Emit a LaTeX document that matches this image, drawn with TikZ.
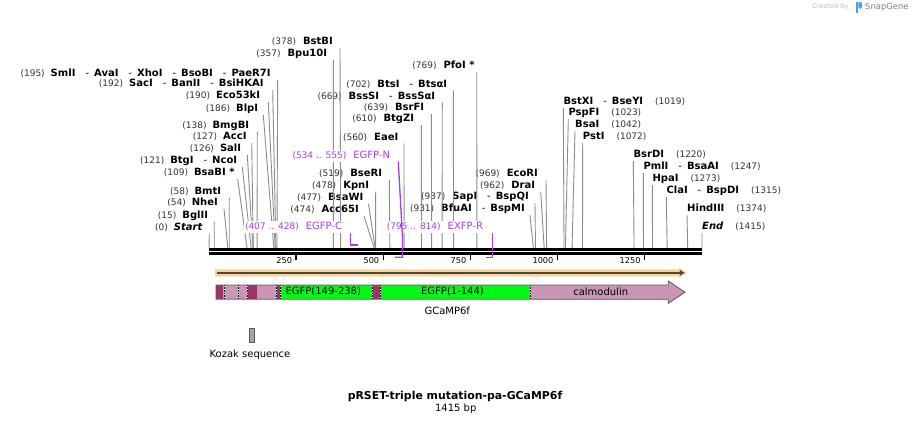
\documentclass[tikz,border=0pt]{standalone}
\usepackage{fontspec}
\setmainfont{DejaVu Sans}
\usepackage{xcolor}
\usetikzlibrary{arrows.meta}
\definecolor{cutgray}{HTML}{8C8C8C}
\definecolor{numgray}{HTML}{333333}
\definecolor{primer}{HTML}{A43DEE}
\definecolor{orfglow}{HTML}{FBD38F}
\definecolor{orfline}{HTML}{474747}
\definecolor{cammod}{HTML}{C996B4}
\definecolor{linker}{HTML}{9C3467}
\definecolor{egfp}{HTML}{05F716}
\definecolor{outline}{HTML}{5A5A5A}
\definecolor{kozak}{HTML}{A3A3A3}
\definecolor{snapblue}{HTML}{4AA3DF}
\newcommand{\sitenum}[1]{{\fontsize{9}{10}\selectfont\color{numgray}(#1)}}
\newcommand{\enz}[1]{\textbf{#1}}
\newcommand{\alsocut}{\hspace{10pt}-\hspace{5pt}}

\begin{document}
\begin{tikzpicture}[
      x = 1pt, y = -1pt, % one unit per pixel, y runs down
      font = \fontsize{10}{12}\selectfont,
      cutline/.style = {draw = cutgray, line width = 0.9pt}, % enzyme leader lines
      primerline/.style = {draw = primer, line width = 1.3pt},
    ]

    \tikzstyle{cutl}=[
      anchor = south east,
      inner xsep = 7pt,
      inner ysep = 1pt,
      text height = 7.5pt,
      text depth = 2pt
    ]
    \tikzstyle{cutr}=[cutl, anchor = south west, inner xsep = 0pt]
    \tikzstyle{primerlbl}=[cutl, text = primer, fill = white, inner xsep = 1pt]

    \fill[white] (0,0) rectangle (912,424);
    \useasboundingbox (0,0) rectangle (912,424);

    % credit line
    \node[text = gray!50, font = \fontsize{6.6}{8}\selectfont, anchor = east] (made) at (852,7) {Created by};
    \fill[snapblue] (855.5,2) rectangle (858.3,13);
    \fill[snapblue, rounded corners = 1pt] (858.3,2) rectangle (861.8,8.5);
    \node[text = gray, font = \fontsize{8.4}{10}\selectfont, anchor = west, inner xsep = 0pt] (snap) at (865,7) {SnapGene};

    % cut sites on the sequence
    \foreach \site in {0,15,54,58,109,121,126,127,138,186,190,192,195,357,378,474,477,478,519,560,610,639,669,702,769,931,937,962,969,1019,1023,1042,1072,1220,1247,1273,1315,1374,1415}
      \coordinate (c\site) at ({209+\site*0.34841},248);

    \node[cutl] (smlI) at (277.7,80) {\sitenum{195}\hspace{6pt}\enz{SmlI}\alsocut\enz{AvaI}\alsocut\enz{XhoI}\alsocut\enz{BsoBI}\alsocut\enz{PaeR7I}};
    \node[cutl, inner xsep = 9pt] (sacI) at (272.7,90) {\sitenum{192}\hspace{6pt}\enz{SacI}\alsocut\enz{BanII}\alsocut\enz{BsiHKAI}};
    \node[cutl, inner xsep = 8pt] (eco53kI) at (268.3,102) {\sitenum{190}\hspace{6pt}\enz{Eco53kI}};
    \node[cutl, inner xsep = 5pt] (blpI) at (263.3,115) {\sitenum{186}\hspace{6pt}\enz{BlpI}};
    \node[cutl, inner xsep = 8pt] (bmgBI) at (257.3,132) {\sitenum{138}\hspace{6pt}\enz{BmgBI}};
    \node[cutl, inner xsep = 5pt] (accI) at (251.7,143) {\sitenum{127}\hspace{6pt}\enz{AccI}};
    \node[cutl, inner xsep = 6pt] (salI) at (247.3,155) {\sitenum{126}\hspace{6pt}\enz{SalI}};
    \node[cutl, inner xsep = 5pt] (btgI) at (242.3,167) {\sitenum{121}\hspace{6pt}\enz{BtgI}\alsocut\enz{NcoI}};
    \node[cutl, inner xsep = 3pt] (bsaBI) at (237.7,179) {\sitenum{109}\hspace{6pt}\enz{BsaBI *}};
    \node[cutl, inner xsep = 8pt] (bmtI) at (229.3,198) {\sitenum{58}\hspace{6pt}\enz{BmtI}};
    \node[cutl, inner xsep = 6pt] (nheI) at (224,209) {\sitenum{54}\hspace{6pt}\enz{NheI}};
    \node[cutl, inner xsep = 6pt] (bglII) at (214.3,222) {\sitenum{15}\hspace{6pt}\enz{BglII}};
    \node[cutl, inner xsep = 6.5pt] (start) at (209.3,234) {\sitenum{0}\hspace{6pt}\enz{\itshape Start}};

    \node[cutl] (bstBI) at (340,48) {\sitenum{378}\hspace{7pt}\enz{BstBI}};
    \node[cutl, inner xsep = 6pt] (bpu10I) at (333.3,60) {\sitenum{357}\hspace{7pt}\enz{Bpu10I}};
    \node[cutl, inner xsep = 2pt] (pfoI) at (476.7,72) {\sitenum{769}\hspace{7pt}\enz{PfoI *}};
    \node[cutl, inner xsep = 6pt] (btsI) at (453.3,90.7) {\sitenum{702}\hspace{7pt}\enz{BtsI}\alsocut\enz{BtsαI}};
    \node[cutl] (bssSI) at (442.3,102.7) {\sitenum{669}\hspace{7pt}\enz{BssSI}\alsocut\enz{BssSαI}};
    \node[cutl] (bsrFI) at (431.3,114) {\sitenum{639}\hspace{7pt}\enz{BsrFI}};
    \node[cutl] (btgZI) at (421.3,125) {\sitenum{610}\hspace{7pt}\enz{BtgZI}};
    \node[cutl, inner xsep = 5.5pt] (eaeI) at (404,143.3) {\sitenum{560}\hspace{7pt}\enz{EaeI}};
    \node[cutl] (bseRI) at (389.3,180) {\sitenum{519}\hspace{7pt}\enz{BseRI}};
    \node[cutl, inner xsep = 6.5pt] (kpnI) at (375.7,191.7) {\sitenum{478}\hspace{7pt}\enz{KpnI}};
    \node[cutl, inner xsep = 5pt] (bsaWI) at (368.5,204) {\sitenum{477}\hspace{7pt}\enz{BsaWI}};
    \node[cutl, inner xsep = 5pt] (acc65I) at (364,216) {\sitenum{474}\hspace{7pt}\enz{Acc65I}};
    \node[cutl, inner xsep = 8pt] (ecoRI) at (546,180) {\sitenum{969}\hspace{7pt}\enz{EcoRI}};
    \node[cutl, inner xsep = 5.5pt] (draI) at (540.7,191.7) {\sitenum{962}\hspace{7pt}\enz{DraI}};
    \node[cutl, inner xsep = 6pt] (sapI) at (535,203) {\sitenum{937}\hspace{7pt}\enz{SapI}\alsocut\enz{BspQI}};
    \node[cutl, inner xsep = 5pt] (bfuAI) at (530,215) {\sitenum{931}\hspace{7pt}\enz{BfuAI}\alsocut\enz{BspMI}};

    \node[cutr] (bstXI) at (563.3,108) {\enz{BstXI}\alsocut\enz{BseYI}\hspace{12pt}\sitenum{1019}};
    \node[cutr] (pspFI) at (568.3,119) {\enz{PspFI}\hspace{12pt}\sitenum{1023}};
    \node[cutr] (bsaI) at (575,131) {\enz{BsaI}\hspace{12pt}\sitenum{1042}};
    \node[cutr] (pstI) at (582.7,143) {\enz{PstI}\hspace{12pt}\sitenum{1072}};
    \node[cutr] (bsrDI) at (633.3,161) {\enz{BsrDI}\hspace{12pt}\sitenum{1220}};
    \node[cutr] (pmlI) at (643.3,173) {\enz{PmlI}\alsocut\enz{BsaAI}\hspace{12pt}\sitenum{1247}};
    \node[cutr] (hpaI) at (652.3,185) {\enz{HpaI}\hspace{12pt}\sitenum{1273}};
    \node[cutr] (claI) at (666.3,197) {\enz{ClaI}\alsocut\enz{BspDI}\hspace{12pt}\sitenum{1315}};
    \node[cutr] (hindIII) at (687,215) {\enz{HindIII}\hspace{12pt}\sitenum{1374}};
    \node[cutr] (finish) at (702,233) {\enz{\itshape End}\hspace{12pt}\sitenum{1415}};

    \path[cutline] (smlI.south east) edge (c195);
    \path[cutline] (sacI.south east) edge (c192);
    \path[cutline] (eco53kI.south east) edge (c190);
    \path[cutline] (blpI.south east) edge (c186);
    \path[cutline] (bmgBI.south east) edge (c138);
    \path[cutline] (accI.south east) edge (c127);
    \path[cutline] (salI.south east) edge (c126);
    \path[cutline] (btgI.south east) edge (c121);
    \path[cutline] (bsaBI.south east) edge (c109);
    \path[cutline] (bmtI.south east) edge (c58);
    \path[cutline] (nheI.south east) edge (c54);
    \path[cutline] (bglII.south east) edge (c15);
    \path[cutline] (start.south east) edge (c0);
    \path[cutline] (bstBI.south east) edge (c378);
    \path[cutline] (bpu10I.south east) edge (c357);
    \path[cutline] (pfoI.south east) edge (c769);
    \path[cutline] (btsI.south east) edge (c702);
    \path[cutline] (bssSI.south east) edge (c669);
    \path[cutline] (bsrFI.south east) edge (c639);
    \path[cutline] (btgZI.south east) edge (c610);
    \path[cutline] (eaeI.south east) edge (c560);
    \path[cutline] (bseRI.south east) edge (c519);
    \path[cutline] (kpnI.south east) edge (c478);
    \path[cutline] (bsaWI.south east) edge (c477);
    \path[cutline] (acc65I.south east) edge (c474);
    \path[cutline] (ecoRI.south east) edge (c969);
    \path[cutline] (draI.south east) edge (c962);
    \path[cutline] (sapI.south east) edge (c937);
    \path[cutline] (bfuAI.south east) edge (c931);
    \path[cutline] (bstXI.south west) edge (c1019);
    \path[cutline] (pspFI.south west) edge (c1023);
    \path[cutline] (bsaI.south west) edge (c1042);
    \path[cutline] (pstI.south west) edge (c1072);
    \path[cutline] (bsrDI.south west) edge (c1220);
    \path[cutline] (pmlI.south west) edge (c1247);
    \path[cutline] (hpaI.south west) edge (c1273);
    \path[cutline] (claI.south west) edge (c1315);
    \path[cutline] (hindIII.south west) edge (c1374);
    \path[cutline] (finish.south west) edge (c1415);

    % double strand and ruler
    \draw[line width = 2.6pt] (209,249.3) -- (702,249.3);
    \draw[line width = 2.3pt] (209,253.5) -- (702,253.5);
    \foreach \t/\x in {250/296.1, 500/383.2, 750/470.3, 1000/557.4, 1250/644.5} {
      \draw[line width = 1.3pt] (\x,253) -- (\x,259.5);
      \node[anchor = east, inner sep = 0pt, font = \fontsize{8.2}{10}\selectfont] (t\t) at (\x-3.8,260.5) {\t};
    }

    % primers
    \node[primerlbl, outer xsep = 7.8pt] (egfpC) at (350.8,233) {{\fontsize{9}{10}\selectfont(407 .. 428)}\hspace{7pt}EGFP-C};
    \node[primerlbl, outer xsep = 7.3pt] (egfpN) at (398.3,161.7) {{\fontsize{9}{10}\selectfont(534 .. 555)}\hspace{7pt}EGFP-N};
    \node[primerlbl, outer xsep = 8.3pt] (exfpR) at (492.3,233) {{\fontsize{9}{10}\selectfont(795 .. 814)}\hspace{7pt}EXFP-R};
    \coordinate (pC) at (350.8,245);
    \coordinate (pCend) at (358.1,245);
    \coordinate (pN) at (402.4,236);
    \coordinate (pNlow) at (402.4,257.3);
    \coordinate (pNend) at (395,257.3);
    \coordinate (pR) at (492.3,257.3);
    \coordinate (pRend) at (486,257.3);
    \draw[primerline] (egfpC.south east) -- (pC) -- (pCend);
    \draw[primerline] (egfpN.south east) -- (pN) -- (pNlow) -- (pNend);
    \draw[primerline] (exfpR.south east) -- (pR) -- (pRend);

    % open reading frame
    \fill[orfglow] (215,269.3) -- (679,269.3) -- (679,267.4) -- (686.8,272.8) -- (679,278.2) -- (679,276.3) -- (215,276.3) -- cycle;
    \draw[orfline, line width = 1.7pt, -{Latex[length = 5pt, width = 6.5pt]}] (217,272.8) -- (684.8,272.8);

    % features
    \fill[cammod] (216,285) rectangle (281,299.3);
    \fill[linker] (216,285) rectangle (223.3,299.3);
    \fill[linker] (247.7,285) rectangle (256.7,299.3);
    \fill[linker] (276.5,285) rectangle (280.5,299.3);
    \fill[egfp] (281,285) rectangle (372.3,299.3);
    \fill[linker] (372.3,285) rectangle (380,299.3);
    \fill[egfp] (380,285) rectangle (531,299.3);
    \fill[cammod] (531,285) -- (668.3,285) -- (668.3,281) -- (685,292.2) -- (668.3,303.3) -- (668.3,299.3) -- (531,299.3) -- cycle;
    \foreach \x in {224.5, 238.5, 247, 276.3, 280.8, 372.3, 380, 530.8} {
      \draw[white, line width = 1pt] (\x,285) -- (\x,299.3);
      \draw[black, line width = 1pt, dash pattern = on 0.8pt off 0.8pt] (\x,285) -- (\x,299.3);
    }
    \draw[outline, line width = 0.8pt] (216,285) -- (668.3,285) -- (668.3,281) -- (685,292.2) -- (668.3,303.3) -- (668.3,299.3) -- (216,299.3) -- cycle;

    \node (egfpB) at (323.3,291.7) {EGFP(149-238)};
    \node (egfpA) at (452.5,291.7) {EGFP(1-144)};
    \node (calm) at (600.7,291.4) {calmodulin};
    \node (gcamp) at (447.3,311) {GCaMP6f};

    % Kozak
    \draw[fill = kozak, draw = outline, line width = 0.6pt] (249.5,328.5) rectangle (253.8,342.5);
    \node (kozakl) at (250,354.3) {Kozak sequence};

    % title
    \node[font = \fontsize{10.9}{13}\selectfont\bfseries] (title) at (455,396) {pRSET-triple mutation-pa-GCaMP6f};
    \node (len) at (455.7,408.6) {1415 bp};

  \end{tikzpicture}
\end{document}
